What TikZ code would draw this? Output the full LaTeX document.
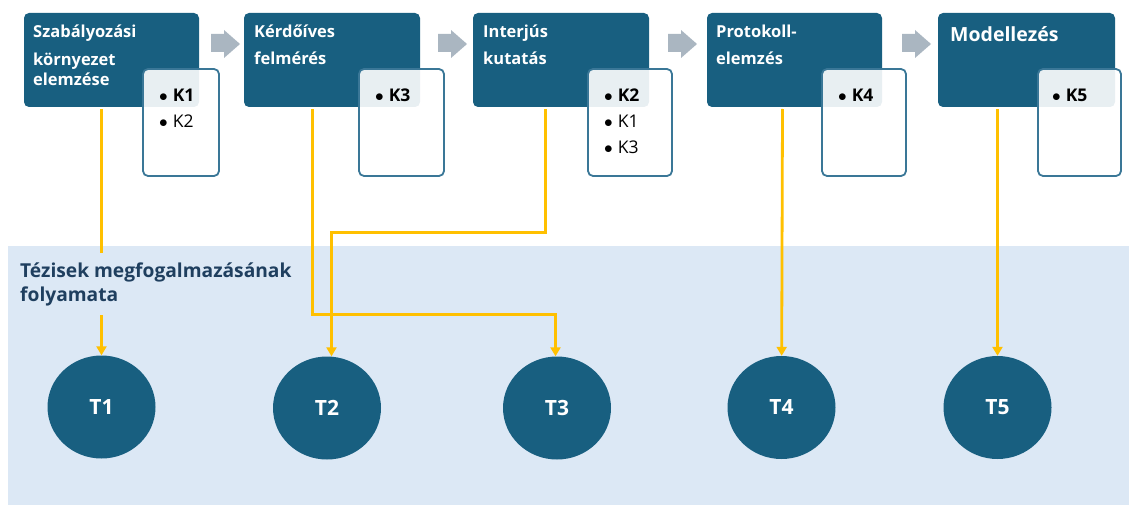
\documentclass[tikz,border=0pt]{standalone}
\usepackage{fontspec}
\setmainfont{Open Sans}
\usetikzlibrary{arrows.meta,shapes.geometric}

\definecolor{procblue}{HTML}{185F80}
\definecolor{kborder}{HTML}{3A7797}
\definecolor{bandblue}{HTML}{DCE8F5}
\definecolor{chevgray}{HTML}{AAB6C1}
\definecolor{gold}{HTML}{FFC000}
\definecolor{labelblue}{HTML}{1F3F5F}

\newcommand{\kitem}{$\bullet$\hspace{5pt}}

\begin{document}
\begin{tikzpicture}[x=1pt,y=-1pt,
  procbox/.style={fill=procblue, rounded corners=5pt, inner sep=0pt, outer sep=0pt,
    minimum height=94pt, anchor=north west},
  proctext/.style={anchor=base west, inner sep=0pt, text=white, align=left,
    text width=160pt, font=\fontsize{16.5}{20}\selectfont\bfseries},
  kbox/.style={draw=kborder, line width=1.8pt, fill=white, fill opacity=0.9,
    rounded corners=5pt, inner sep=0pt, outer sep=0pt, minimum height=107pt,
    anchor=north west},
  klist/.style={anchor=base west, inner sep=0pt, align=left, text width=70pt,
    font=\fontsize{17.5}{26}\selectfont},
  thesis/.style={ellipse, fill=procblue, inner sep=0pt, minimum width=108pt,
    minimum height=103pt, text=white, font=\fontsize{21}{21}\selectfont\bfseries},
  link/.style={draw=gold, line width=2.8pt, -{Triangle[length=9pt,width=10pt]}},
  chevron/.style={fill=chevgray},
  bandlabel/.style={fill=bandblue, anchor=north west, inner xsep=6pt, inner ysep=0pt,
    minimum height=62pt, align=left, text=labelblue,
    font=\fontsize{19.2}{24}\selectfont\bfseries}
]
\useasboundingbox (0,0) rectangle (1129,505);

% background band of the thesis stage
\fill[bandblue] (8,246) rectangle (1129,505);

% process steps
\node[procbox, minimum width=175pt] (p1) at (24,13) {};
\node[procbox, minimum width=176pt] (p2) at (244,13) {};
\node[procbox, minimum width=176pt] (p3) at (473,13) {};
\node[procbox, minimum width=175pt] (p4) at (707,13) {};
\node[procbox, minimum width=177pt] (p5) at (938,13) {};

\node[proctext] (p1t) at (33,37.7) {Szabályozási\\[8pt]környezet\\elemzése};
\node[proctext] (p2t) at (254,37.7) {Kérdőíves\\[7pt]felmérés};
\node[proctext] (p3t) at (483,37.7) {Interjús\\[7pt]kutatás};
\node[proctext] (p4t) at (716,37.7) {Protokoll-\\[7pt]elemzés};
\node[proctext, font=\fontsize{19.5}{22}\selectfont\bfseries] (p5t) at (950,41.5) {Modellezés};

% chevrons between the steps
\foreach \x in {211,438,668,902}
  \fill[chevron] (\x,34) -- (\x+13,34) -- (\x+13,30) -- (\x+29,44)
    -- (\x+13,58) -- (\x+13,52) -- (\x,52) -- cycle;

% lists of the related research questions
\node[kbox, minimum width=76pt] (k1) at (143,69) {};
\node[kbox, minimum width=85pt] (k2) at (359,69) {};
\node[kbox, minimum width=84pt] (k3) at (588,69) {};
\node[kbox, minimum width=84pt] (k4) at (822,69) {};
\node[kbox, minimum width=83pt] (k5) at (1038,69) {};

\node[klist] (k1t) at (159,102) {\kitem\textbf{K1}\\\kitem K2};
\node[klist] (k2t) at (375,102) {\kitem\textbf{K3}};
\node[klist] (k3t) at (604,102) {\kitem\textbf{K2}\\\kitem K1\\\kitem K3};
\node[klist] (k4t) at (838,102) {\kitem\textbf{K4}};
\node[klist] (k5t) at (1052,102) {\kitem\textbf{K5}};

% theses
\node[thesis] (t1) at (101.5,407) {T1};
\node[thesis] (t2) at (327,408) {T2};
\node[thesis] (t3) at (557,408) {T3};
\node[thesis] (t4) at (781.5,407.5) {T4};
\node[thesis] (t5) at (997.5,407.5) {T5};

% start points below the steps and the bends of the routed links
\coordinate (o1) at (101.5,109);
\coordinate (o2) at (312.5,109);
\coordinate (o3) at (545.5,109);
\coordinate (o4) at (782.5,109);
\coordinate (o5) at (997.5,109);
\coordinate (b2) at (312.5,314.5);
\coordinate (b3) at (545.5,232.5);

\draw[link] (o1) -- (t1);
\draw[link] (o2) -- (b2) -| ([xshift=-1.5pt]t3.north);
\draw[link] (o3) -- (b3) -| ([xshift=4.5pt]t2.north);
\draw[link] (o4) -- (t4);
\draw[link] (o5) -- (t5);

% title of the thesis stage, laid over the first link
\node[bandlabel] (lbl) at (14,253) {Tézisek megfogalmazásának\\folyamata};
\end{tikzpicture}
\end{document}
